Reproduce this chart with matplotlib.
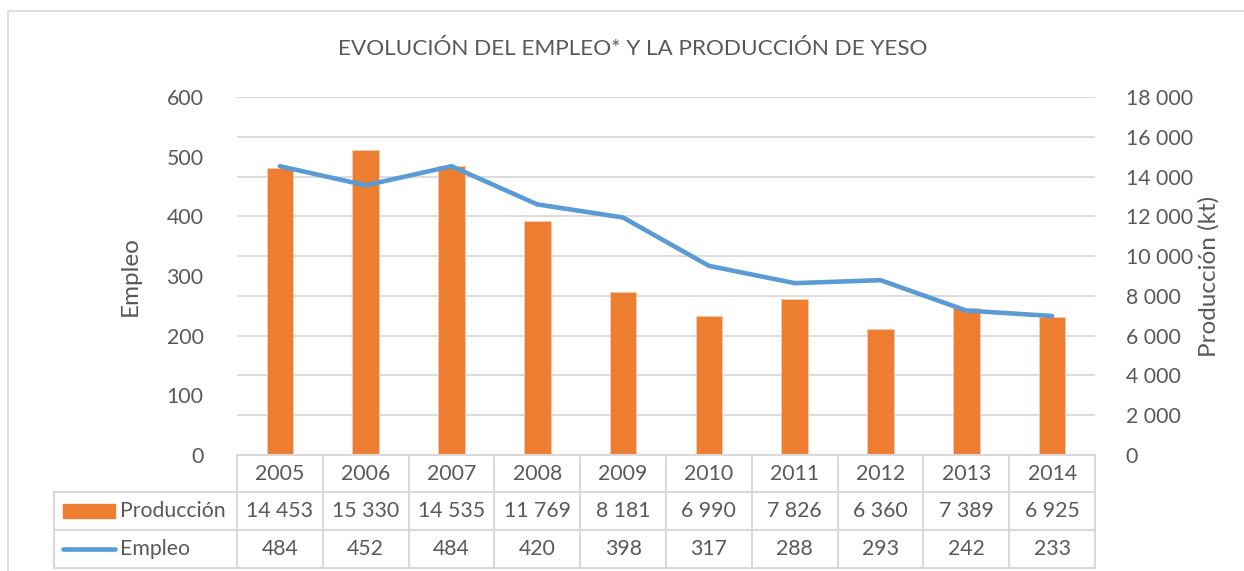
import matplotlib.pyplot as plt
from matplotlib.patches import Rectangle
from matplotlib.lines import Line2D

years = ["2005", "2006", "2007", "2008", "2009", "2010", "2011", "2012", "2013", "2014"]
produccion = [14453, 15330, 14535, 11769, 8181, 6990, 7826, 6360, 7389, 6925]
empleo = [484, 452, 484, 420, 398, 317, 288, 293, 242, 233]

W, H = 1244, 571
txt = "#595959"
grid = "#D9D9D9"
orange = "#ED7D31"
blue = "#5B9BD5"
plt.rcParams['font.family'] = ['Lato', 'DejaVu Sans']
fs = 15.3


def fmt(v):
    return "{:,}".format(v).replace(",", " ")


fig = plt.figure(figsize=(W / 100, H / 100), dpi=100)

# chart frame (only left and top visible in crop)
fig.patches.append(Rectangle((8 / W, -0.1), 1.2, (H - 11) / H + 0.1, transform=fig.transFigure,
                             fill=False, edgecolor=grid, lw=1.2))

x0, x1, y0, y1 = 237, 1095, 97, 455
ax = fig.add_axes([x0 / W, (H - y1) / H, (x1 - x0) / W, (y1 - y0) / H])
ax2 = ax.twinx()

n = len(years)
xs = list(range(n))
ax2.bar(xs, produccion, width=0.31, color=orange, edgecolor="#F8CBAD", lw=0.6, zorder=2)
ax2.set_ylim(0, 18000)
ax2.set_yticks(range(0, 18001, 2000))
ax2.set_yticklabels([fmt(v) for v in range(0, 18001, 2000)])
ax2.yaxis.grid(True, color=grid, lw=1.3)
ax2.set_axisbelow(True)

ax.plot(xs, empleo, color=blue, lw=3.3, solid_capstyle='round', solid_joinstyle='round', zorder=3)
ax.set_ylim(0, 600)
ax.set_yticks(range(0, 601, 100))
ax.set_xlim(-0.5, n - 0.5)
ax.set_xticks([])
ax.set_zorder(ax2.get_zorder() + 1)
ax.patch.set_visible(False)

for a in (ax, ax2):
    for s in a.spines.values():
        s.set_visible(False)
    a.tick_params(axis='y', length=0, labelsize=fs, labelcolor=txt)
ax.tick_params(axis='y', pad=24)
ax2.tick_params(axis='y', pad=22)

fig.text(130 / W, 1 - 276 / H, "Empleo", rotation=90, ha='center', va='center', fontsize=17.5, color=txt)
fig.text(1209 / W, 1 - 276 / H, "Producción (kt)", rotation=90, ha='center', va='center', fontsize=17.5, color=txt)
fig.text(633 / W, 1 - 49 / H, "EVOLUCIÓN DEL EMPLEO* Y LA PRODUCCIÓN DE YESO", ha='center', va='center',
         fontsize=16.2, color=txt)

# data table below the plot, x in category units shared with ax
cw = (x1 - x0) / n
lx = -0.5 - (x0 - 54) / cw
ty0, ty1 = 455, 568
tab = fig.add_axes([54 / W, (H - ty1) / H, (x1 - 54) / W, (ty1 - ty0) / H])
tab.set_xlim(lx, n - 0.5)
tab.set_ylim(3, 0)
tab.axis('off')
rows = [0, 37 / 113 * 3, 75 / 113 * 3, 3]
lk = dict(color=grid, lw=1.5, clip_on=False)
tab.plot([-0.5, n - 0.5], [rows[0], rows[0]], **lk)
for r in rows[1:]:
    tab.plot([lx, n - 0.5], [r, r], **lk)
for i in range(n + 1):
    tab.plot([i - 0.5, i - 0.5], [rows[0], rows[3]], **lk)
tab.plot([lx, lx], [rows[1], rows[3]], **lk)

mid = [(rows[i] + rows[i + 1]) / 2 for i in range(3)]
for i in range(n):
    tab.text(i, mid[0], years[i], ha='center', va='center', fontsize=fs, color=txt)
    tab.text(i, mid[1], fmt(produccion[i]), ha='center', va='center', fontsize=fs, color=txt)
    tab.text(i, mid[2], fmt(empleo[i]), ha='center', va='center', fontsize=fs, color=txt)

ku = 1 / cw
tab.add_patch(Rectangle((lx + 9 * ku, mid[1] - 0.18), 52 * ku, 0.36, color=orange, clip_on=False))
tab.add_line(Line2D([lx + 9 * ku, lx + 61 * ku], [mid[2], mid[2]], color=blue, lw=3.3,
                    solid_capstyle='round', clip_on=False))
tab.text(lx + 66 * ku, mid[1], "Producción", ha='left', va='center', fontsize=fs, color=txt)
tab.text(lx + 66 * ku, mid[2], "Empleo", ha='left', va='center', fontsize=fs, color=txt)

fig.savefig("out.png", dpi=100)
